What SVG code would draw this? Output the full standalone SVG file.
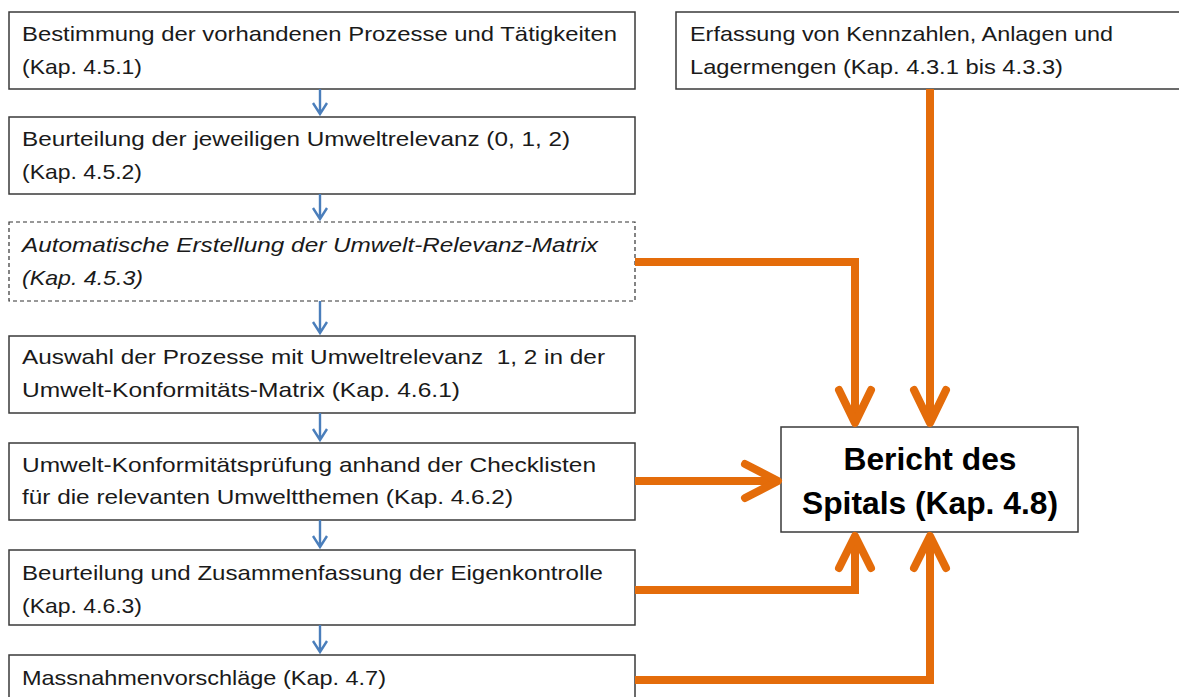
<svg xmlns="http://www.w3.org/2000/svg" width="1179" height="697" viewBox="0 0 1179 697">
<style>
.box{fill:#fff;stroke:#3a3a3a;stroke-width:1.5}
.dash{fill:#fff;stroke:#333;stroke-width:1.2;stroke-dasharray:4 3}
.t{font-family:"Liberation Sans",Arial,sans-serif;font-size:21px;fill:#1a1a1a;white-space:pre}
.it{font-style:italic}
.b{font-family:"Liberation Sans",Arial,sans-serif;font-size:31px;font-weight:bold;fill:#000}
.blue{stroke:#4a7ebb;stroke-width:2.4;fill:none}
.or{stroke:#e46c0a;stroke-width:8;fill:none}
.orh{stroke:#e46c0a;stroke-width:8;fill:none;stroke-linecap:round;stroke-linejoin:round}
</style>
<rect width="1179" height="697" fill="#fff"/>
<g id="n1"><rect class="box" x="9" y="12" width="626" height="77"/>
<text class="t" x="22" y="41" textLength="595" lengthAdjust="spacingAndGlyphs">Bestimmung der vorhandenen Prozesse und Tätigkeiten</text>
<text class="t" x="22" y="74" textLength="120" lengthAdjust="spacingAndGlyphs">(Kap. 4.5.1)</text></g>
<g id="n2"><rect class="box" x="9" y="117" width="626" height="77"/>
<text class="t" x="22" y="146" textLength="548" lengthAdjust="spacingAndGlyphs">Beurteilung der jeweiligen Umweltrelevanz (0, 1, 2)</text>
<text class="t" x="22" y="179" textLength="120" lengthAdjust="spacingAndGlyphs">(Kap. 4.5.2)</text></g>
<g id="n3"><rect class="dash" x="9" y="222" width="626" height="79"/>
<text class="t it" x="22" y="252" textLength="576" lengthAdjust="spacingAndGlyphs">Automatische Erstellung der Umwelt-Relevanz-Matrix</text>
<text class="t it" x="22" y="285" textLength="121" lengthAdjust="spacingAndGlyphs">(Kap. 4.5.3)</text></g>
<g id="n4"><rect class="box" x="9" y="336" width="626" height="77"/>
<text class="t" x="22" y="364" textLength="583" lengthAdjust="spacingAndGlyphs" xml:space="preserve">Auswahl der Prozesse mit Umweltrelevanz  1, 2 in der</text>
<text class="t" x="22" y="397" textLength="438" lengthAdjust="spacingAndGlyphs">Umwelt-Konformitäts-Matrix (Kap. 4.6.1)</text></g>
<g id="n5"><rect class="box" x="9" y="443" width="626" height="77"/>
<text class="t" x="22" y="472" textLength="574" lengthAdjust="spacingAndGlyphs">Umwelt-Konformitätsprüfung anhand der Checklisten</text>
<text class="t" x="22" y="504" textLength="491" lengthAdjust="spacingAndGlyphs">für die relevanten Umweltthemen (Kap. 4.6.2)</text></g>
<g id="n6"><rect class="box" x="9" y="550" width="626" height="75"/>
<text class="t" x="22" y="580" textLength="581" lengthAdjust="spacingAndGlyphs">Beurteilung und Zusammenfassung der Eigenkontrolle</text>
<text class="t" x="22" y="613" textLength="120" lengthAdjust="spacingAndGlyphs">(Kap. 4.6.3)</text></g>
<g id="n7"><rect class="box" x="9" y="655" width="626" height="60"/>
<text class="t" x="22" y="685" textLength="364" lengthAdjust="spacingAndGlyphs">Massnahmenvorschläge (Kap. 4.7)</text></g>
<g id="n8"><rect class="box" x="676" y="12" width="520" height="77"/>
<text class="t" x="690" y="41" textLength="423" lengthAdjust="spacingAndGlyphs">Erfassung von Kennzahlen, Anlagen und</text>
<text class="t" x="690" y="74" textLength="373" lengthAdjust="spacingAndGlyphs">Lagermengen (Kap. 4.3.1 bis 4.3.3)</text></g>
<g id="n9"><rect class="box" x="781" y="427" width="297" height="105"/>
<text class="b" x="930" y="470" text-anchor="middle" textLength="173" lengthAdjust="spacingAndGlyphs">Bericht des</text>
<text class="b" x="930" y="514" text-anchor="middle" textLength="256" lengthAdjust="spacingAndGlyphs">Spitals (Kap. 4.8)</text></g>
<g id="connectors">
<path class="blue" d="M320 89V114M313 103L320 114L327 103"/>
<path class="blue" d="M320 194V219M313 208L320 219L327 208"/>
<path class="blue" d="M320 301V333M313 322L320 333L327 322"/>
<path class="blue" d="M320 413V440M313 429L320 440L327 429"/>
<path class="blue" d="M320 520V547M313 536L320 547L327 536"/>
<path class="blue" d="M320 625V652M313 641L320 652L327 641"/>
<path class="or" d="M635 262H855V424"/>
<path class="orh" d="M839 390L855 423L871 390"/>
<path class="or" d="M930 89V424"/>
<path class="orh" d="M914 390L930 423L946 390"/>
<path class="or" d="M635 481H778"/>
<path class="orh" d="M745 464L778 481L745 498"/>
<path class="or" d="M635 590H855V535"/>
<path class="orh" d="M839 568L855 536L871 568"/>
<path class="or" d="M635 680H930V535"/>
<path class="orh" d="M914 568L930 536L946 568"/>
</g>
</svg>
